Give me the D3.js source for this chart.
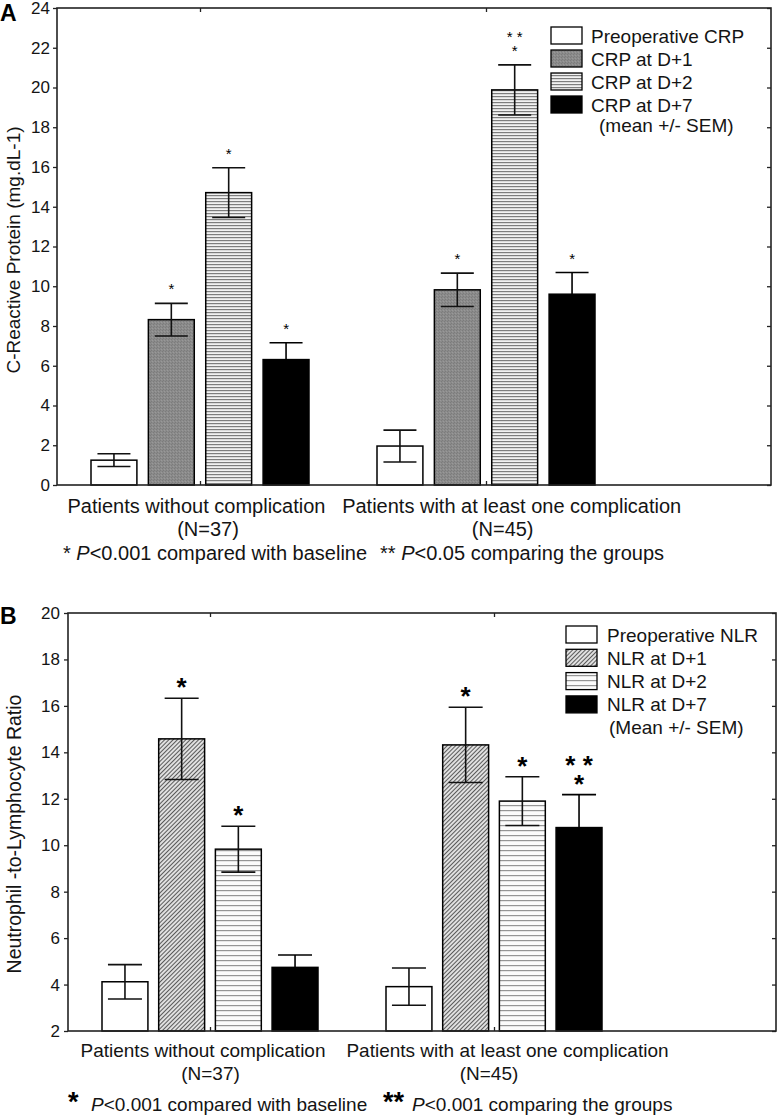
<!DOCTYPE html>
<html><head><meta charset="utf-8">
<script src="https://cdn.jsdelivr.net/npm/d3@7/dist/d3.min.js"></script>
<style>
body{margin:0;background:#fff}
text{font-family:"Liberation Sans",Arial,sans-serif;fill:#141414}
</style>
</head><body>
<svg id="c" width="779" height="1116"></svg>
<script>
// ---------------- DATA ----------------
const groups = ["Patients without complication", "Patients with at least one complication"];
const groupN = ["(N=37)", "(N=45)"];

const crpSeries = ["Preoperative CRP", "CRP at D+1", "CRP at D+2", "CRP at D+7"];
const crpMean = [[1.25, 8.32, 14.71, 6.31], [1.96, 9.82, 19.88, 9.60]];
const crpSem  = [[0.32, 0.82, 1.25, 0.85], [0.80, 0.84, 1.26, 1.09]];
const crpStars = [["", "*", "*", "*"], ["", "*", "**", "*"]];
const crpTicks = [0, 2, 4, 6, 8, 10, 12, 14, 16, 18, 20, 22, 24];
const crpYLabel = "C-Reactive Protein (mg.dL-1)";
const crpLegendNote = "(mean +/- SEM)";
const crpFoot = ["<0.001 compared with baseline", "<0.05 comparing the groups"];

const nlrSeries = ["Preoperative NLR", "NLR at D+1", "NLR at D+2", "NLR at D+7"];
const nlrMean = [[4.12, 14.58, 9.83, 4.74], [3.91, 14.32, 11.90, 10.76]];
const nlrSem  = [[0.74, 1.75, 0.99, 0.53], [0.80, 1.62, 1.05, 1.42]];
const nlrStars = [["", "*", "*", ""], ["", "*", "*", "**"]];
const nlrTicks = [2, 4, 6, 8, 10, 12, 14, 16, 18, 20];
const nlrYLabel = "Neutrophil -to-Lymphocyte Ratio";
const nlrLegendNote = "(Mean +/- SEM)";
const nlrFoot = ["<0.001 compared with baseline", "<0.001 comparing the groups"];

// ---------------- PATTERNS ----------------
const svg = d3.select("#c");
const defs = svg.append("defs");

// stipple gray (A, D+1)
const st = defs.append("pattern").attr("id","stipple").attr("patternUnits","userSpaceOnUse").attr("width",3).attr("height",3);
st.append("rect").attr("width",3).attr("height",3).attr("fill","#8b8b8b");
st.append("rect").attr("x",0).attr("y",0).attr("width",1).attr("height",1).attr("fill","#7c7c7c");
st.append("rect").attr("x",1).attr("y",2).attr("width",1).attr("height",1).attr("fill","#7c7c7c");
st.append("rect").attr("x",2).attr("y",1).attr("width",1).attr("height",1).attr("fill","#999");

// fine horizontal lines (A, D+2)
const hA = defs.append("pattern").attr("id","hlinesA").attr("patternUnits","userSpaceOnUse").attr("width",6).attr("height",3);
hA.append("rect").attr("width",6).attr("height",3).attr("fill","#f2f2f2");
hA.append("rect").attr("y",0).attr("width",6).attr("height",1.2).attr("fill","#7e7e7e");

// diagonal hatch (B, D+1)
const dg = defs.append("pattern").attr("id","diag").attr("patternUnits","userSpaceOnUse").attr("width",3).attr("height",3).attr("patternTransform","rotate(45)");
dg.append("rect").attr("width",3).attr("height",3).attr("fill","#e0e0e0");
dg.append("rect").attr("x",0).attr("width",1).attr("height",3).attr("fill","#5a5a5a");

// wider horizontal lines (B, D+2)
const hB = defs.append("pattern").attr("id","hlinesB").attr("patternUnits","userSpaceOnUse").attr("width",6).attr("height",5);
hB.append("rect").attr("width",6).attr("height",5).attr("fill","#fbfbfb");
hB.append("rect").attr("y",0).attr("width",6).attr("height",1.2).attr("fill","#959595");

// ---------------- PANEL ----------------
function drawPanel(cfg) {
  const g = svg.append("g");
  const L = cfg.left, R = cfg.right, T = cfg.top, B = cfg.bottom;

  const y = d3.scaleLinear().domain(cfg.yDomain).range([B, T]);
  const xG = d3.scalePoint().domain(groups).range(cfg.groupRange);
  const xS = d3.scaleBand().domain(cfg.series).range([-cfg.groupHalf, cfg.groupHalf]).paddingInner(cfg.padInner);
  const bw = xS.bandwidth();

  // panel letter
  g.append("text").attr("x", 0).attr("y", cfg.letterY).attr("font-size", 23).attr("font-weight", "bold").style("fill","#000").text(cfg.letter);

  // left axis
  const ax = g.append("g").attr("transform", `translate(${L},0)`)
    .call(d3.axisLeft(y).tickValues(cfg.ticks).tickSize(4).tickPadding(cfg.tickPad).tickFormat(d3.format("d")));
  ax.select(".domain").remove();
  ax.selectAll(".tick line").attr("stroke", "#222").attr("stroke-width", 1.3);
  ax.selectAll(".tick text").attr("font-size", cfg.tickFont).attr("font-family", "Liberation Sans, Arial, sans-serif").style("fill","#141414");

  // right ticks (inward)
  const ar = g.append("g").attr("transform", `translate(${R},0)`)
    .call(d3.axisLeft(y).tickValues(cfg.ticks).tickSize(4).tickFormat(""));
  ar.select(".domain").remove();
  ar.selectAll(".tick line").attr("stroke", "#222").attr("stroke-width", 1.3);

  // top & bottom category ticks (inward)
  const at = g.append("g").attr("transform", `translate(0,${T})`).call(d3.axisBottom(xG).tickSize(4).tickFormat(""));
  at.select(".domain").remove();
  at.selectAll(".tick line").attr("stroke", "#222").attr("stroke-width", 1.3);
  const ab = g.append("g").attr("transform", `translate(0,${B})`).call(d3.axisTop(xG).tickSize(4).tickFormat(""));
  ab.select(".domain").remove();
  ab.selectAll(".tick line").attr("stroke", "#222").attr("stroke-width", 1.3);

  // bars
  groups.forEach((grp, gi) => {
    const gx = xG(grp);
    cfg.series.forEach((s, si) => {
      const x0 = gx + xS(s);
      const m = cfg.mean[gi][si], e = cfg.sem[gi][si];
      g.append("rect").attr("x", x0).attr("y", y(m)).attr("width", bw).attr("height", y(cfg.yDomain[0]) - y(m))
        .attr("fill", cfg.fills[si]).attr("stroke", "#000").attr("stroke-width", 1.5);
      const cx = x0 + bw / 2;
      const cw = cfg.capW / 2;
      const solidBlack = cfg.fills[si] === "#000";
      const eg = g.append("g").attr("stroke", solidBlack ? "#000" : "#111").attr("stroke-width", 1.6);
      eg.append("line").attr("x1", cx).attr("x2", cx).attr("y1", solidBlack ? y(m) : y(m - e)).attr("y2", y(m + e));
      eg.append("line").attr("x1", cx - cw).attr("x2", cx + cw).attr("y1", y(m + e)).attr("y2", y(m + e));
      if (!solidBlack) {
        eg.append("line").attr("x1", cx - cw).attr("x2", cx + cw).attr("y1", y(m - e)).attr("y2", y(m - e));
      }
      const star = cfg.stars[gi][si];
      if (star) {
        const top = y(m + e);
        const t = g.append("text").attr("text-anchor", "middle")
          .attr("font-size", cfg.starFont).attr("font-weight", cfg.starWeight).style("fill","#000");
        if (star === "**") {
          t.append("tspan").attr("x", cx).attr("y", top - cfg.starOff - cfg.starGap).text("* *");
        }
        t.append("tspan").attr("x", cx).attr("y", top - cfg.starOff).text("*");
      }
    });
  });

  // frame
  g.append("rect").attr("x", L).attr("y", T).attr("width", R - L).attr("height", B - T)
    .attr("fill", "none").attr("stroke", "#222").attr("stroke-width", 1.6);

  // y label
  g.append("text").attr("transform", `translate(${cfg.yLabelX},${cfg.yLabelY}) rotate(-90)`)
    .attr("text-anchor", "middle").attr("font-size", cfg.yLabelFont).text(cfg.yLabel);

  // legend
  cfg.series.forEach((s, si) => {
    const ty = cfg.legTop + si * cfg.legStep;
    g.append("rect").attr("x", cfg.legX).attr("y", ty).attr("width", 31).attr("height", 17)
      .attr("fill", cfg.fills[si]).attr("stroke", "#000").attr("stroke-width", 1.3);
    g.append("text").attr("x", cfg.legTextX).attr("y", ty + 15.5).attr("font-size", cfg.legFont).text(s);
  });
  g.append("text").attr("x", cfg.legNoteX).attr("y", cfg.legNoteY).attr("font-size", cfg.legFont).text(cfg.legNote);

  // category labels
  groups.forEach((grp, gi) => {
    g.append("text").attr("x", xG(grp) + cfg.labOff[gi]).attr("y", cfg.labY).attr("text-anchor", "middle")
      .attr("font-size", cfg.labFont).text(grp);
    g.append("text").attr("x", xG(grp) + cfg.nOff[gi]).attr("y", cfg.nY).attr("text-anchor", "middle")
      .attr("font-size", cfg.labFont).text(groupN[gi]);
  });

  // footnotes
  cfg.foot.forEach((f, fi) => {
    const mark = fi === 0 ? "*" : "**";
    if (cfg.bigStars) {
      g.append("text").attr("x", cfg.footStarX[fi]).attr("y", cfg.footY).attr("font-size", 27).attr("font-weight", "bold").style("fill","#000").text(mark);
      const t = g.append("text").attr("x", cfg.footX[fi]).attr("y", cfg.footY).attr("font-size", cfg.labFont);
      t.append("tspan").attr("font-style", "italic").text("P");
      t.append("tspan").text(f);
    } else {
      const t = g.append("text").attr("x", cfg.footX[fi]).attr("y", cfg.footY).attr("font-size", cfg.labFont);
      t.append("tspan").text(mark + " ");
      t.append("tspan").attr("font-style", "italic").text("P");
      t.append("tspan").text(f);
    }
  });
}

drawPanel({
  letter: "A", letterY: 21,
  left: 57, right: 771, top: 8, bottom: 485,
  yDomain: [0, 24], ticks: crpTicks, tickFont: 17, tickPad: 3,
  groupRange: [200, 486], groupHalf: 109, padInner: 0.2, capW: 33,
  series: crpSeries, mean: crpMean, sem: crpSem, stars: crpStars,
  fills: ["#fff", "url(#stipple)", "url(#hlinesA)", "#000"],
  starFont: 15, starWeight: "normal", starOff: 9, starGap: 14,
  yLabel: crpYLabel, yLabelX: 20, yLabelY: 250, yLabelFont: 19,
  legX: 551, legTop: 27, legStep: 23, legTextX: 591, legFont: 19,
  legNote: crpLegendNote, legNoteX: 599, legNoteY: 132,
  labOff: [-3.5, 25.7], labY: 513, nOff: [8, 16.7], nY: 536, labFont: 20,
  foot: crpFoot, footX: [63, 380], footY: 560, bigStars: false
});

drawPanel({
  letter: "B", letterY: 624,
  left: 68, right: 776, top: 613, bottom: 1031,
  yDomain: [2, 20], ticks: nlrTicks, tickFont: 17, tickPad: 4,
  groupRange: [210, 494], groupHalf: 108, padInner: 0.19, capW: 34,
  series: nlrSeries, mean: nlrMean, sem: nlrSem, stars: nlrStars,
  fills: ["#fff", "url(#diag)", "url(#hlinesB)", "#000"],
  starFont: 26, starWeight: "bold", starOff: 2, starGap: 19,
  yLabel: nlrYLabel, yLabelX: 21, yLabelY: 834, yLabelFont: 19.5,
  legX: 566, legTop: 626, legStep: 23.3, legTextX: 607, legFont: 19,
  legNote: nlrLegendNote, legNoteX: 609, legNoteY: 734,
  labOff: [-7, 13.5], labY: 1057, nOff: [0.5, -5], nY: 1080, labFont: 19,
  foot: nlrFoot, footX: [91, 412], footStarX: [68, 383], footY: 1111, bigStars: true
});
</script>
</body></html>
